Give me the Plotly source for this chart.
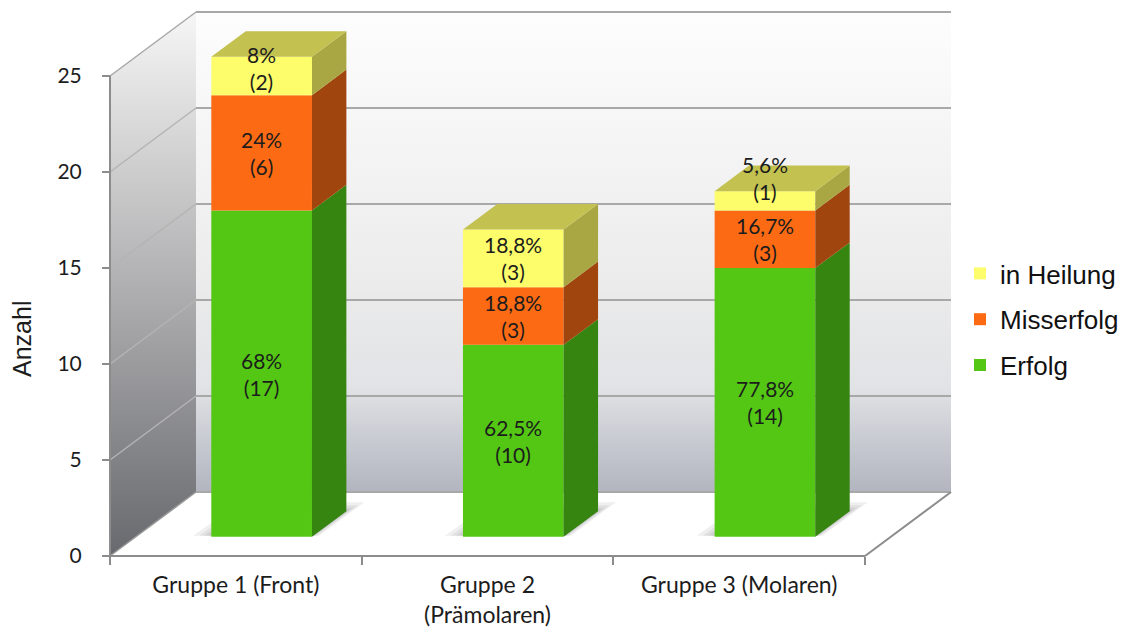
import plotly.graph_objects as go

# ---- data -------------------------------------------------------------
categories = ["Gruppe 1 (Front)", "Gruppe 2<br>(Prämolaren)", "Gruppe 3 (Molaren)"]
erfolg = [17, 10, 14]
misserfolg = [6, 3, 3]
in_heilung = [2, 3, 1]
series_names = ["Erfolg", "Misserfolg", "in Heilung"]
y_ticks = [0, 5, 10, 15, 20, 25]
y_max = 25
y_title = "Anzahl"

# ---- styling ----------------------------------------------------------
FRONT = ["#53C714", "#FD6A14", "#FDFD6B"]
SIDE = ["#358510", "#A1450E", "#A9A743"]
TOP = ["#3F9E12", "#C2561A", "#C3C150"]
AXIS_COL = "#8C8C8C"
GRID_COL = "#A8A8A8"
TEXT_COL = "#1C1C1C"
NUM_FONT = "Lato"
LEG_FONT = "Liberation Sans"

# pixel geometry of the pseudo-3D frame
FIG_W, FIG_H = 1130, 632
PX_PER_CAT = 251.67
PX_PER_UNIT = 19.2
FRONT_LEFT_PX = 110
FRONT_BOTTOM_PX = 556
DEPTH_DX_PX = 86
DEPTH_DY_PX = 64

DX = DEPTH_DX_PX / PX_PER_CAT          # full depth offset along x (category units)
DY = DEPTH_DY_PX / PX_PER_UNIT         # full depth offset along y (value units)
BAR_F0, BAR_F1 = 0.30, 0.70            # depth slice occupied by the boxes
BAR_W = 0.40
n = len(categories)
x_lo, x_hi = -0.5, n - 0.5
PXX = 1 / PX_PER_CAT                   # one pixel in x units
PXY = 1 / PX_PER_UNIT                  # one pixel in y units

x_range = [x_lo - FRONT_LEFT_PX * PXX, x_lo + (FIG_W - FRONT_LEFT_PX) * PXX]
y_range = [-(FIG_H - FRONT_BOTTOM_PX) * PXY, FRONT_BOTTOM_PX * PXY]

fig = go.Figure()


def poly(xs, ys, color=None, gradient=None):
    kw = dict(x=list(xs) + [xs[0]], y=list(ys) + [ys[0]], mode="lines", fill="toself",
              line=dict(width=0), hoverinfo="skip", showlegend=False)
    if gradient is not None:
        kw["fillgradient"] = gradient
    else:
        kw["fillcolor"] = color
    fig.add_trace(go.Scatter(**kw))


def seg(x0, y0, x1, y1, color, width):
    fig.add_trace(go.Scatter(x=[x0, x1], y=[y0, y1], mode="lines",
                             line=dict(color=color, width=width),
                             hoverinfo="skip", showlegend=False))


# ---- walls and floor --------------------------------------------------
poly([x_lo, x_lo + DX, x_lo + DX, x_lo], [0, DY, y_max + DY, y_max],
     gradient=dict(type="vertical", start=0, stop=y_max + DY,
                   colorscale=[[0, "#68696E"], [0.45, "#A9A9AB"], [1, "#F6F6F6"]]))
poly([x_lo + DX, x_hi + DX, x_hi + DX, x_lo + DX], [DY, DY, y_max + DY, y_max + DY],
     gradient=dict(type="vertical", start=DY, stop=y_max + DY,
                   colorscale=[[0, "#B2B5BF"], [0.12, "#CACDD3"], [0.22, "#E2E3E6"],
                               [0.45, "#ECECEC"], [1, "#FDFDFD"]]))
poly([x_lo, x_hi, x_hi + DX, x_lo + DX], [0, 0, DY, DY], color="#FFFFFF")

# gridlines on the back wall and the side wall
for t in y_ticks:
    seg(x_lo + DX, t + DY, x_hi + DX, t + DY, GRID_COL, 2)
    if t > 0:
        seg(x_lo, t, x_lo + DX, t + DY, "#B4B4B4" if t < y_max else GRID_COL, 1.5)

# frame edges
seg(x_lo, 0, x_lo + DX, DY, "#9A9A9A", 1.5)
seg(x_hi, 0, x_hi + DX, DY, AXIS_COL, 2)
seg(x_lo, 0, x_hi, 0, AXIS_COL, 2)
seg(x_lo, 0, x_lo, y_max, AXIS_COL, 2)

# ---- boxes --------------------------------------------------------------
stacks = [erfolg, misserfolg, in_heilung]
fx0, fy0 = BAR_F0 * DX, BAR_F0 * DY
bx, by = (BAR_F1 - BAR_F0) * DX, (BAR_F1 - BAR_F0) * DY

# soft shadows on the floor around each box footprint
for i in range(n):
    xl = i + fx0 - BAR_W / 2
    xr = i + fx0 + BAR_W / 2
    for grow in (18, 12, 7, 3):
        poly([xl - grow * PXX, xr + grow * 0.4 * PXX,
              xr + bx + grow * PXX, xl + bx - grow * 0.3 * PXX],
             [fy0 + 1 * PXY, fy0 + 1 * PXY,
              fy0 + by + grow * 0.5 * PXY, fy0 + by + grow * 0.5 * PXY],
             color="rgba(80,80,80,0.09)")

for i in range(n):
    xl = i + fx0 - BAR_W / 2
    xr = i + fx0 + BAR_W / 2
    bottom = fy0
    for s, vals in enumerate(stacks):
        top = bottom + vals[i]
        # front face
        poly([xl, xr, xr, xl], [bottom, bottom, top, top], color=FRONT[s])
        # right side face
        poly([xr, xr + bx, xr + bx, xr], [bottom, bottom + by, top + by, top], color=SIDE[s])
        bottom = top
    # lid of the stack
    poly([xl, xr, xr + bx, xl + bx], [bottom, bottom, bottom + by, bottom + by], color=TOP[-1])

# legend entries (listed top to bottom, one group each for wider spacing)
for s in reversed(range(len(stacks))):
    fig.add_trace(go.Scatter(x=[None], y=[None], mode="markers", name=series_names[s],
                             legendgroup=series_names[s],
                             marker=dict(symbol="square", size=14, color=FRONT[s]),
                             hoverinfo="skip"))


# ---- data labels -------------------------------------------------------
def pct(v, total):
    p = round(100 * v / total, 1)
    s = f"{p:.1f}".replace(".", ",")
    return (s[:-2] if s.endswith(",0") else s) + "%"


LABEL_H = 2.5
totals = [sum(v[i] for v in stacks) for i in range(n)]
for i in range(n):
    bottom = fy0
    for s, vals in enumerate(stacks):
        v = vals[i]
        yc = bottom + v / 2 + 0.8 * max(0.0, LABEL_H - v)
        fig.add_annotation(x=i + fx0, y=yc, text=f"{pct(v, totals[i])}<br>({v})",
                           showarrow=False, xanchor="center", yanchor="middle",
                           font=dict(family=NUM_FONT, size=21, color=TEXT_COL))
        bottom += v

fig.add_annotation(x=22 / FIG_W, xref="paper", y=1 - 339 / FIG_H, yref="paper",
                   text=y_title, textangle=-90, showarrow=False,
                   xanchor="center", yanchor="middle",
                   font=dict(family=LEG_FONT, size=25, color=TEXT_COL))

# ---- axes ---------------------------------------------------------------
fig.update_layout(
    width=FIG_W, height=FIG_H,
    margin=dict(l=0, r=0, t=0, b=0),
    paper_bgcolor="white", plot_bgcolor="white",
    showlegend=True,
    legend=dict(x=960 / FIG_W, xanchor="left", y=1 - 250 / FIG_H, yanchor="top",
                traceorder="grouped", tracegroupgap=9, itemsizing="constant",
                font=dict(family=LEG_FONT, size=26, color="#111111"),
                bgcolor="rgba(0,0,0,0)", borderwidth=0),
    xaxis=dict(range=x_range, anchor="free", position=(FIG_H - FRONT_BOTTOM_PX) / FIG_H,
               showgrid=False, zeroline=False, showline=False,
               tickmode="array", tickvals=list(range(n)), ticktext=categories,
               ticks="", ticklabelstandoff=13,
               minor=dict(tickmode="array", tickvals=[x_lo + j for j in range(n + 1)],
                          ticks="outside", ticklen=8, tickwidth=2, tickcolor=AXIS_COL,
                          showgrid=False),
               tickfont=dict(family=NUM_FONT, size=23, color=TEXT_COL), fixedrange=True),
    yaxis=dict(range=y_range, anchor="free", position=FRONT_LEFT_PX / FIG_W,
               showgrid=False, zeroline=False, showline=False,
               tickmode="array", tickvals=y_ticks, ticks="outside", ticklen=8,
               tickwidth=2, tickcolor=AXIS_COL, ticklabelstandoff=16,
               tickfont=dict(family=NUM_FONT, size=21, color=TEXT_COL), fixedrange=True),
)

fig.write_html("out.html")
